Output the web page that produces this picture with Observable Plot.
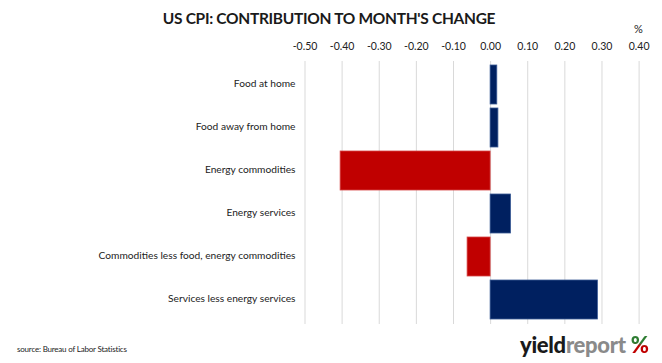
<!DOCTYPE html>
<html>
<head>
<meta charset="utf-8">
<script src="https://cdn.jsdelivr.net/npm/d3@7"></script>
<script src="https://cdn.jsdelivr.net/npm/@observablehq/plot@0.6"></script>
<style>
  html, body { margin: 0; padding: 0; background: #fff; }
  #wrap { position: relative; width: 662px; height: 363px; overflow: hidden; font-family: Lato, "Open Sans", sans-serif; }
  #title { position: absolute; left: 0; width: 658px; top: 9px; text-align: center; font-weight: 700; font-size: 15.5px; color: #1a1a1a; letter-spacing: -0.3px; }
  #pct { position: absolute; left: 634px; top: 22px; font-size: 11px; color: #222; }
  #source { position: absolute; left: 17px; top: 344px; font-size: 8px; color: #222; letter-spacing: -0.2px; }
  #logo { position: absolute; left: 520px; top: 331px; font-size: 22px; font-weight: 900; letter-spacing: -0.3px; font-family: Lato, sans-serif; }
  #logo .p { background: linear-gradient(to bottom, #2e7d32 0%, #2e7d32 45%, #c00000 55%, #c00000 100%); -webkit-background-clip: text; background-clip: text; color: transparent; }
  #chart { position: absolute; left: 0; top: 0; }
</style>
</head>
<body>
<div id="wrap">
  <div id="chart"></div>
  <div id="title">US CPI: CONTRIBUTION TO MONTH'S CHANGE</div>
  <div id="pct">%</div>
  <div id="source">source: Bureau of Labor Statistics</div>
  <div id="logo"><span style="color:#1a1a1a">yield</span><span style="color:#8a8a8a">report</span> <span class="p">%</span></div>
</div>
<script>
const categories = [
  "Food at home",
  "Food away from home",
  "Energy commodities",
  "Energy services",
  "Commodities less food, energy commodities",
  "Services less energy services"
];
const values = [0.018, 0.021, -0.404, 0.055, -0.062, 0.289];
const xTicks = [-0.5, -0.4, -0.3, -0.2, -0.1, 0, 0.1, 0.2, 0.3, 0.4];

const data = categories.map((c, i) => ({category: c, value: values[i]}));

const chart = Plot.plot({
  width: 662,
  height: 363,
  marginLeft: 304.5,
  marginRight: 23.4,
  marginTop: 61,
  marginBottom: 39,
  style: {fontFamily: "Lato, 'Open Sans', sans-serif", fontSize: "10px", color: "#222", background: "transparent"},
  x: {domain: [-0.5, 0.4], axis: null},
  y: {domain: categories, padding: 0.09, axis: null},
  marks: [
    Plot.gridX(xTicks, {stroke: "#d9d9d9", strokeOpacity: 1, strokeWidth: 1}),
    Plot.text(xTicks, {x: d => d, frameAnchor: "top", dy: -18.5, text: d => d.toFixed(2), fontSize: 10.5, fill: "#222"}),
    Plot.text(categories, {y: d => d, frameAnchor: "left", dx: -9.5, dy: -1.5, textAnchor: "end", text: d => d, fontSize: 10.2, fill: "#222"}),
    Plot.barX(data, {
      x: "value",
      y: "category",
      fill: d => d.value < 0 ? "#C00000" : "#002060",
      stroke: d => d.value < 0 ? "#d64545" : "#3a5a95",
      strokeWidth: 0.8
    })
  ]
});
document.getElementById("chart").appendChild(chart);
</script>
</body>
</html>
